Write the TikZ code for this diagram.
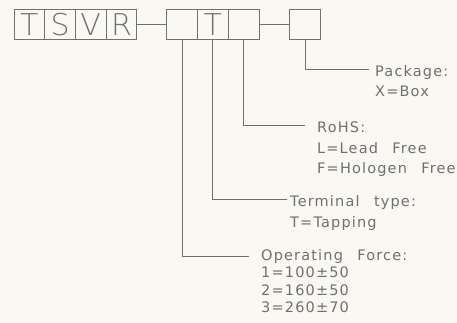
\documentclass[tikz,border=0pt]{standalone}
\usepackage{fontspec}
\setmainfont{DejaVu Sans}
\newfontfamily\codefont{DejaVu Sans ExtraLight}
\newfontfamily\notefont{DejaVu Sans}[LetterSpace=8, WordSpace=2.5]
\definecolor{cadgray}{RGB}{112,112,112}
\definecolor{paper}{RGB}{250,248,243}
\usetikzlibrary{positioning}

\begin{document}
\begin{tikzpicture}[x=1pt, y=-1pt,
    cell/.style={draw=cadgray, line width=0.8pt, outer sep=0pt, inner sep=0pt,
                 minimum width=30.7pt, minimum height=30pt,
                 text=cadgray, font=\codefont\fontsize{30}{30}\selectfont},
    lead/.style={draw=cadgray, line width=0.8pt},
    note/.style={anchor=base west, inner sep=0pt, align=left,
                 text=cadgray, font=\notefont\fontsize{14.5}{20.5}\selectfont}
  ]
    \useasboundingbox[fill=paper] (0,0) rectangle (457,323);

    % Part number cells
    \node[cell] (t) at (29.35,24.5) {T};
    \node[cell, right=0pt of t] (s) {S};
    \node[cell, right=0pt of s] (v) {V};
    \node[cell, right=0pt of v] (r) {R};
    \node[cell, right=30pt of r]      (force) {};
    \node[cell, right=0pt of force]   (term)  {T};
    \node[cell, right=0pt of term]    (rohs)  {};
    \node[cell, right=30.7pt of rohs] (pack)  {};

    \draw[lead] (r) -- (force);
    \draw[lead] (rohs) -- (pack);

    % Descriptions (anchored at the baseline of the last line)
    \node[note] (packtxt)  at (375,97)    {Package:\\X=Box};
    \node[note] (rohstxt)  at (317,173.7) {RoHS:\\L=Lead Free\\F=Hologen Free};
    \node[note] (termtxt)  at (290,227.2) {Terminal type:\\T=Tapping};
    \node[note, font=\notefont\fontsize{14.5}{17.6}\selectfont]
                (forcetxt) at (261,312.8) {Operating Force:\\1=100±50\\2=160±50\\3=260±70};

    \coordinate (packend)  at (369,69);
    \coordinate (rohsend)  at (305,125);
    \coordinate (termend)  at (287,199.3);
    \coordinate (forceend) at (249,256);
    \foreach \c in {pack, rohs, term, force}
      \draw[lead] (\c.south) |- (\c end);
\end{tikzpicture}
\end{document}
